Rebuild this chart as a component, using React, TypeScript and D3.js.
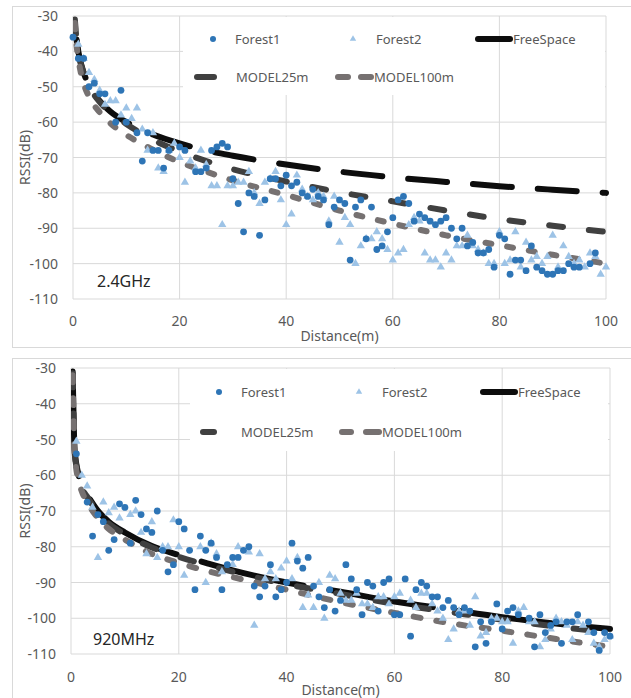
import React from 'react';
import * as d3 from 'd3';

// ---- scatter data: [distance m, RSSI dB]
const topForest1 = [
  [0, -36], [1, -42], [2, -42], [3, -50], [4, -49], [5, -52], [6, -52], [8, -60], [9, -51], [10, -60],
  [12, -63], [13, -71], [14, -63], [15, -68], [16, -68], [17, -73], [18, -68], [20, -67], [21, -68],
  [23, -74], [24, -74], [25, -73], [26, -68], [27, -67], [28, -66], [29, -67], [30, -76], [31, -83],
  [32, -91], [33, -80], [34, -81], [35, -92], [36, -82], [37, -76], [38, -76], [39, -78], [40, -75],
  [41, -78], [42, -77], [43, -80], [44, -81], [45, -79], [46, -81], [47, -82], [48, -89], [49, -84],
  [50, -82], [51, -83], [52, -99], [53, -84], [54, -82], [55, -93], [56, -84], [57, -96], [58, -95],
  [59, -91], [60, -87], [61, -82], [62, -81], [63, -83], [64, -88], [65, -86], [66, -87], [67, -88],
  [68, -89], [69, -88], [70, -87], [71, -90], [72, -93], [73, -90], [74, -95], [75, -94], [76, -97],
  [77, -97], [78, -96], [79, -101], [80, -92], [81, -93], [82, -103], [83, -99], [84, -99], [85, -102],
  [86, -95], [87, -101], [88, -102], [89, -103], [90, -103], [91, -102], [92, -102], [93, -100],
  [94, -101], [95, -101], [97, -100], [98, -97],
];

const topForest2 = [
  [1, -38], [2, -42], [3, -46], [4, -48], [5, -51], [6, -55], [7, -54], [8, -54], [9, -58], [10, -56],
  [11, -59], [12, -56], [13, -62], [14, -68], [15, -63], [16, -73], [17, -74], [18, -68], [19, -66],
  [20, -70], [21, -77], [22, -71], [23, -73], [24, -68], [25, -72], [26, -78], [27, -78], [28, -89],
  [29, -78], [30, -78], [31, -77], [32, -77], [33, -74], [34, -80], [35, -83], [36, -77], [37, -76],
  [38, -74], [39, -82], [40, -89], [41, -86], [42, -75], [43, -79], [44, -81], [45, -82], [46, -80],
  [47, -81], [48, -88], [49, -81], [50, -94], [51, -87], [52, -89], [53, -100], [54, -95], [55, -93],
  [56, -93], [57, -91], [58, -93], [59, -96], [60, -99], [61, -97], [62, -96], [63, -89], [64, -87],
  [65, -88], [66, -97], [67, -99], [68, -99], [69, -101], [70, -97], [71, -99], [72, -95], [73, -95],
  [74, -92], [75, -95], [76, -96], [77, -97], [78, -100], [79, -100], [80, -91], [81, -100], [82, -99],
  [83, -91], [84, -101], [85, -94], [86, -99], [87, -98], [88, -100], [89, -98], [90, -92], [91, -101],
  [92, -95], [93, -98], [94, -100], [95, -99], [96, -101], [97, -97], [98, -98], [99, -103], [100, -101],
];

const botForest1 = [
  [1, -54], [3, -67.5], [4, -77], [5, -71], [6, -73], [7, -81], [8, -78], [9, -68], [10, -69], [11, -79],
  [12, -67], [13, -71], [14, -75], [15, -76], [16, -70], [17, -81], [18, -87], [19, -85], [20, -73],
  [21, -75], [22, -81], [23, -92], [24, -77], [25, -81], [26, -79], [27, -83], [28, -92], [29, -85],
  [30, -83], [31, -83], [32, -81], [33, -80], [34, -91], [35, -94], [36, -91], [37, -85], [38, -94],
  [39, -92], [40, -90], [41, -79], [42, -84], [43, -86], [44, -83], [45, -91], [46, -94], [47, -97],
  [48, -92], [49, -98], [50, -95], [51, -85], [52, -89], [53, -92], [54, -99], [55, -90], [56, -91],
  [57, -98], [58, -90], [59, -89], [60, -99], [61, -99], [62, -89], [63, -105], [64, -92], [65, -90],
  [66, -91], [67, -94], [68, -94], [69, -97], [70, -95], [71, -97], [72, -99], [73, -97], [74, -98],
  [75, -108], [76, -101], [77, -107], [78, -101], [79, -96], [80, -103], [81, -98], [82, -97], [83, -99],
  [85, -100], [86, -108], [87, -99], [88, -104], [89, -102], [90, -101], [91, -107], [92, -101],
  [93, -101], [94, -99], [96, -101], [97, -104], [98, -109], [99, -104], [100, -105],
];

const botForest2 = [
  [1, -50.5], [2, -60], [3, -63], [4, -69], [5, -83], [6, -67.5], [7, -70.5], [8, -69], [9, -72],
  [11, -71], [12, -70], [13, -76], [14, -82], [15, -73], [16, -83], [17, -80], [18, -80], [19, -72.5],
  [20, -80], [21, -88], [24, -80], [25, -90], [26, -79], [27, -82], [28, -87], [30, -85], [31, -80],
  [33, -81.5], [34, -102], [35, -82], [36, -89], [37, -87], [38, -89], [39, -86], [40, -84], [41, -89],
  [42, -83], [43, -97], [44, -93.5], [45, -97], [46, -90], [47, -100], [48, -88], [49, -89], [50, -93],
  [51, -95], [52, -95], [53, -93], [54, -96], [55, -96], [56, -97], [57, -94], [58, -94], [59, -96],
  [60, -94], [61, -93], [63, -95], [64, -97], [65, -93], [66, -93], [67, -96], [68, -98], [69, -100],
  [70, -106], [71, -103], [72, -98], [73, -98], [74, -102], [75, -94], [76, -105], [77, -104],
  [78, -100], [79, -100], [80, -101], [81, -101], [82, -107], [83, -98], [84, -97], [85, -101],
  [86, -101], [87, -108], [88, -106], [89, -103], [90, -100], [91, -101], [92, -102], [93, -106],
  [94, -101], [95, -102], [96, -104], [97, -107], [98, -108], [99, -106], [100, -105],
];

// ---- model curves, sampled at these distances
const topDist = [0.35, 0.5, 1, 2, 3, 5, 7, 10, 15, 20, 25, 30, 40, 50, 60, 70, 80, 90, 100];
const topFree = [-31, -34, -40, -46, -49.5, -54, -57, -60, -63.5, -66, -68, -69.5, -72, -74, -75.6, -76.9, -78.1, -79.1, -80];
const topModel25 = [-31, -34, -40, -46.2, -49.8, -54.3, -57.3, -60.5, -65, -68.3, -71, -73.3, -76.8, -79.8, -82.4, -85, -87.4, -89.3, -91];
const topModel100 = [-32, -35.5, -42, -49, -52.8, -57.2, -60.3, -63.6, -67.8, -71.3, -74, -76.5, -80.6, -85, -88.7, -92, -94.8, -97.5, -100];

const botDist = [0.3, 0.4, 0.5, 0.6, 0.8, 1, 1.5, 2, 3, 5, 7, 10, 15, 20, 25, 30, 40, 50, 60, 70, 80, 90, 100];
const botFree = [-31, -38, -45, -51, -55, -57, -60.5, -63, -65.5, -70, -73, -76, -79.8, -82.3, -84.5, -86.6, -90, -92.6, -95.3, -97.5, -99.7, -101.5, -103];
const botModel25 = [-31.5, -38.5, -45.5, -51.5, -55.5, -57.5, -61, -63.5, -66, -70.5, -73.5, -76.5, -80.2, -82.8, -85, -87, -90.5, -93.2, -96, -98.2, -100.4, -102.3, -104];
const botModel100 = [-32, -39, -46, -52, -56, -58.5, -62, -64.5, -67.5, -72, -75, -78, -82, -84.5, -86.7, -88.5, -92, -95.5, -98.5, -101.3, -103.5, -105.8, -108];

const xTicks = [0, 20, 40, 60, 80, 100];
const yTicks = [-30, -40, -50, -60, -70, -80, -90, -100, -110];

const FONT = '"Noto Sans", "Open Sans", sans-serif';
const GRID = '#d9d9d9';
const C_F1 = '#2e75b6';
const C_F2 = '#9dc3e6';
const C_FS = '#0d0d0d';
const C_25 = '#404040';
const C_100 = '#767171';

const panels = [
  {
    id: 'top', frame: [12.5, 6.5, 640, 341], xr: [73, 606], yr: [299, 16],
    legendBox: [183, 17, 422, 78], leg1: 39, leg2: 77,
    legX: { f1: 213, f1t: 235, f2: 353, f2t: 376, fs: [478, 510], fst: 513, m25: [197, 214], m25t: 236, m100: [338, 348, 361, 371], m100t: 374 },
    label: '2.4GHz', labelPos: [97, 287], xTitleY: 341, tickY: 326,
    f1: topForest1, f2: topForest2, dist: topDist, fs: topFree, m25: topModel25, m100: topModel100,
    dash: { fs: '39 26', m25: '14 26', m100: '6 16' }, offs: { fs: 45, m25: 0, m100: 0 },
  },
  {
    id: 'bot', frame: [12.5, 358.5, 640, 400], xr: [71, 610], yr: [654, 368],
    legendBox: [190, 369, 418, 82], leg1: 392, leg2: 432,
    legX: { f1: 219, f1t: 241, f2: 359, f2t: 382, fs: [483, 515], fst: 518, m25: [203, 214], m25t: 241, m100: [342, 351, 366, 379], m100t: 382 },
    label: '920MHz', labelPos: [93, 645], xTitleY: 695, tickY: 682,
    f1: botForest1, f2: botForest2, dist: botDist, fs: botFree, m25: botModel25, m100: botModel100,
    dash: { fs: '105 26', m25: '14 26', m100: '7 16' }, offs: { fs: 0, m25: 0, m100: 0 },
  },
];

const tri = d3.symbol(d3.symbolTriangle, 30)();
const triSmall = d3.symbol(d3.symbolTriangle, 18)();

function Panel({ p }) {
  const x = d3.scaleLinear().domain([0, 100]).range(p.xr);
  const y = d3.scaleLinear().domain([-110, -30]).range(p.yr);
  const line = d3
    .line()
    .x((d) => x(d[0]))
    .y((d) => y(d[1]))
    .curve(d3.curveMonotoneX);
  const pts = (vals) => p.dist.map((d, i) => [d, vals[i]]);
  const [lx, ly, lw, lh] = p.legendBox;
  const L = p.legX;
  const legText = { fontFamily: FONT, fontSize: 13, fill: '#595959' };
  const clipId = `clip-${p.id}`;

  return (
    <g>
      <rect x={p.frame[0]} y={p.frame[1]} width={p.frame[2]} height={p.frame[3]} fill="#fff" stroke={GRID} />
      <defs>
        <clipPath id={clipId}>
          <rect x={p.xr[0]} y={p.yr[1] - 4} width={p.xr[1] - p.xr[0] + 4} height={p.yr[0] - p.yr[1] + 8} />
        </clipPath>
      </defs>

      {/* gridlines */}
      {yTicks.map((t) => (
        <line key={'gy' + t} x1={p.xr[0]} x2={p.xr[1]} y1={y(t)} y2={y(t)} stroke={GRID} />
      ))}
      {xTicks.map((t) => (
        <line key={'gx' + t} x1={x(t)} x2={x(t)} y1={p.yr[1]} y2={p.yr[0]} stroke={GRID} />
      ))}

      {/* legend background hides grid, except the 80 m line */}
      <rect x={lx} y={ly} width={lw} height={lh} fill="#fff" />
      <line x1={x(80)} x2={x(80)} y1={p.yr[1]} y2={ly + lh} stroke={GRID} />

      {/* tick labels */}
      {yTicks.map((t) => (
        <text key={'ty' + t} x={p.xr[0] - 15} y={y(t) + 5} textAnchor="end" fontFamily={FONT} fontSize={14} fill="#595959">
          {t}
        </text>
      ))}
      {xTicks.map((t) => (
        <text key={'tx' + t} x={x(t)} y={p.tickY} textAnchor="middle" fontFamily={FONT} fontSize={14} fill="#595959">
          {t}
        </text>
      ))}
      <text x={(p.xr[0] + p.xr[1]) / 2} y={p.xTitleY} textAnchor="middle" fontFamily={FONT} fontSize={14} fill="#595959">
        Distance(m)
      </text>
      <text
        transform={`translate(30,${(p.yr[0] + p.yr[1]) / 2}) rotate(-90)`}
        textAnchor="middle"
        fontFamily={FONT}
        fontSize={14}
        fill="#595959"
      >
        RSSI(dB)
      </text>
      <text x={p.labelPos[0]} y={p.labelPos[1]} fontFamily={FONT} fontSize={16} fill="#262626">
        {p.label}
      </text>

      {/* model curves */}
      <g clipPath={`url(#${clipId})`} fill="none" strokeWidth={6} strokeLinecap="round">
        <path d={line(pts(p.fs))} stroke={C_FS} strokeDasharray={p.dash.fs} strokeDashoffset={p.offs.fs} />
        <path d={line(pts(p.m25))} stroke={C_25} strokeDasharray={p.dash.m25} strokeDashoffset={p.offs.m25} />
        <path d={line(pts(p.m100))} stroke={C_100} strokeDasharray={p.dash.m100} strokeDashoffset={p.offs.m100} />
      </g>

      {/* measurements */}
      {p.f2.map((d, i) => (
        <path key={'f2' + i} d={tri} transform={`translate(${x(d[0])},${y(d[1])})`} fill={C_F2} />
      ))}
      {p.f1.map((d, i) => (
        <circle key={'f1' + i} cx={x(d[0])} cy={y(d[1])} r={3.4} fill={C_F1} />
      ))}

      {/* legend */}
      <circle cx={L.f1} cy={p.leg1} r={3} fill={C_F1} />
      <text x={L.f1t} y={p.leg1 + 5} {...legText}>Forest1</text>
      <path d={triSmall} transform={`translate(${L.f2},${p.leg1})`} fill={C_F2} />
      <text x={L.f2t} y={p.leg1 + 5} {...legText}>Forest2</text>
      <line x1={L.fs[0]} x2={L.fs[1]} y1={p.leg1} y2={p.leg1} stroke={C_FS} strokeWidth={6} strokeLinecap="round" />
      <text x={L.fst} y={p.leg1 + 5} {...legText}>FreeSpace</text>
      <line x1={L.m25[0]} x2={L.m25[1]} y1={p.leg2} y2={p.leg2} stroke={C_25} strokeWidth={6} strokeLinecap="round" />
      <text x={L.m25t} y={p.leg2 + 5} {...legText}>MODEL25m</text>
      <line x1={L.m100[0]} x2={L.m100[1]} y1={p.leg2} y2={p.leg2} stroke={C_100} strokeWidth={6} strokeLinecap="round" />
      <line x1={L.m100[2]} x2={L.m100[3]} y1={p.leg2} y2={p.leg2} stroke={C_100} strokeWidth={6} strokeLinecap="round" />
      <text x={L.m100t} y={p.leg2 + 5} {...legText}>MODEL100m</text>
    </g>
  );
}

export default function App() {
  return (
    <svg width={631} height={698} style={{ position: 'absolute', left: 0, top: 0, background: '#fff' }}>
      <rect width={631} height={698} fill="#fff" />
      {panels.map((p) => (
        <Panel key={p.id} p={p} />
      ))}
    </svg>
  );
}
